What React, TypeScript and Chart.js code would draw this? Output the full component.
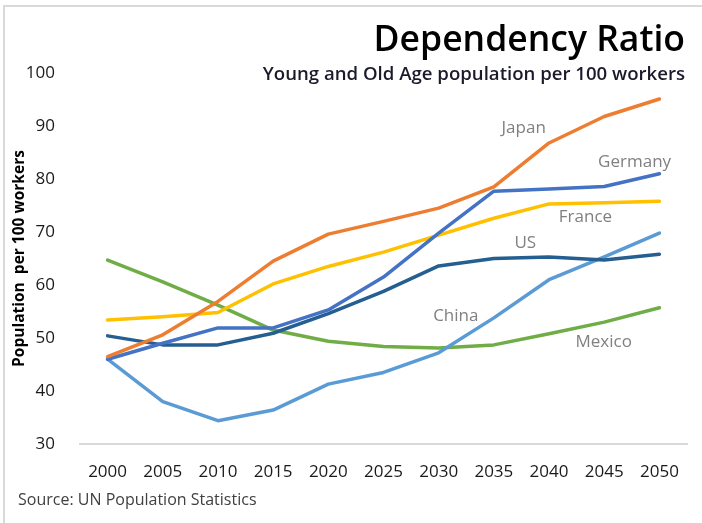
import React, { useEffect, useRef } from "react";
import { Chart, registerables } from "chart.js";

Chart.register(...registerables);

const years = ["2000", "2005", "2010", "2015", "2020", "2025", "2030", "2035", "2040", "2045", "2050"];

const japan = [46.5, 50.6, 56.9, 64.5, 69.6, 72.0, 74.5, 78.5, 86.8, 91.8, 95.1];
const germany = [46.0, 49.0, 51.9, 51.9, 55.3, 61.5, 69.8, 77.7, 78.1, 78.6, 81.0];
const france = [53.4, 54.0, 54.8, 60.2, 63.5, 66.2, 69.4, 72.6, 75.3, 75.5, 75.8];
const us = [50.4, 48.7, 48.7, 50.9, 54.6, 58.8, 63.6, 65.0, 65.3, 64.7, 65.8];
const china = [46.0, 38.0, 34.4, 36.4, 41.3, 43.5, 47.2, 53.8, 61.0, 65.3, 69.8];
const mexico = [64.7, 60.6, 56.2, 51.5, 49.4, 48.4, 48.1, 48.7, 50.8, 53.0, 55.7];

const seriesNames = ["Japan", "Germany", "France", "US", "China", "Mexico"];
const seriesColors = ["#ED7D31", "#4472C4", "#FFC000", "#255E91", "#5B9BD5", "#70AD47"];
// label anchor: [fractional category index, value]
const labelX = [7.54, 9.55, 8.66, 7.57, 6.31, 8.99];
const labelY = [89.6, 83.2, 72.8, 67.9, 54.2, 49.2];

const yTicks = [30, 40, 50, 60, 70, 80, 90, 100];

const titleText = "Dependency Ratio";
const subtitleText = "Young and Old Age population per 100 workers";
const sourceText = "Source: UN Population Statistics";
const yTitle = "Population  per 100 workers";

const FONT = "'Open Sans', 'DejaVu Sans', sans-serif";

const decorPlugin = {
  id: "decor",
  beforeDraw(chart: any) {
    const ctx = chart.ctx;
    ctx.save();
    ctx.fillStyle = "#ffffff";
    ctx.fillRect(0, 0, chart.width, chart.height);
    ctx.fillStyle = "#d9d9d9";
    ctx.fillRect(3, 5, chart.width - 3, 2);
    ctx.fillRect(3, 5, 2, chart.height - 5);
    ctx.restore();
  },
  afterDraw(chart: any) {
    const ctx = chart.ctx;
    const xs = chart.scales.x;
    const ys = chart.scales.y;
    ctx.save();
    ctx.textAlign = "right";
    ctx.textBaseline = "alphabetic";
    ctx.fillStyle = "#000000";
    ctx.font = `600 35.5px ${FONT}`;
    ctx.fillText(titleText, 685, 51);
    ctx.fillStyle = "#1a1a2a";
    ctx.font = `600 18.6px ${FONT}`;
    ctx.fillText(subtitleText, 685, 80);

    ctx.textAlign = "left";
    ctx.fillStyle = "#404040";
    ctx.font = `16px ${FONT}`;
    ctx.fillText(sourceText, 18, 505);

    ctx.textAlign = "center";
    ctx.textBaseline = "middle";
    ctx.fillStyle = "#808080";
    ctx.font = `17px ${FONT}`;
    seriesNames.forEach((n, i) => {
      const px = xs.getPixelForValue(labelX[i]);
      const py = ys.getPixelForValue(labelY[i]);
      ctx.fillText(n, px, py);
    });
    ctx.restore();
  },
};

export default function App() {
  const ref = useRef<HTMLCanvasElement | null>(null);
  useEffect(() => {
    if (!ref.current) return;
    const all = [japan, germany, france, us, china, mexico];
    const chart = new Chart(ref.current, {
      type: "line",
      data: {
        labels: years,
        datasets: seriesNames.map((n, i) => ({
          label: n,
          data: all[i],
          borderColor: seriesColors[i],
          backgroundColor: seriesColors[i],
          borderWidth: 3.5,
          pointRadius: 0,
          tension: 0,
          borderCapStyle: "round" as const,
          borderJoinStyle: "round" as const,
        })),
      },
      options: {
        animation: false,
        responsive: false,
        maintainAspectRatio: false,
        layout: { padding: { top: 73, right: 15, bottom: 0, left: 0 } },
        plugins: {
          legend: { display: false },
          tooltip: { enabled: false },
          title: { display: false },
        },
        scales: {
          x: {
            type: "category",
            offset: true,
            grid: { display: false },
            border: { display: true, color: "#d9d9d9", width: 2 },
            ticks: {
              color: "#1a1a1a",
              font: { family: FONT, size: 17 },
              padding: 10,
              maxRotation: 0,
              autoSkip: false,
            },
            afterFit: (s: any) => {
              s.height = 79;
            },
          },
          y: {
            min: 30,
            max: 100,
            afterBuildTicks: (s: any) => {
              s.ticks = yTicks.map((v) => ({ value: v }));
            },
            grid: { display: false },
            border: { display: false },
            ticks: {
              color: "#1a1a1a",
              font: { family: FONT, size: 17 },
              padding: 17,
            },
            title: {
              display: true,
              text: yTitle,
              color: "#000000",
              font: { family: FONT, size: 15.5, weight: "bold" },
              padding: { top: 10, bottom: 0 },
            },
            afterFit: (s: any) => {
              s.width = 80;
            },
          },
        },
      },
      plugins: [decorPlugin],
    });
    return () => chart.destroy();
  }, []);
  return (
    <div style={{ position: "absolute", left: 0, top: 0, width: 702, height: 523 }}>
      <canvas ref={ref} width={702} height={523} style={{ width: 702, height: 523 }} />
    </div>
  );
}
